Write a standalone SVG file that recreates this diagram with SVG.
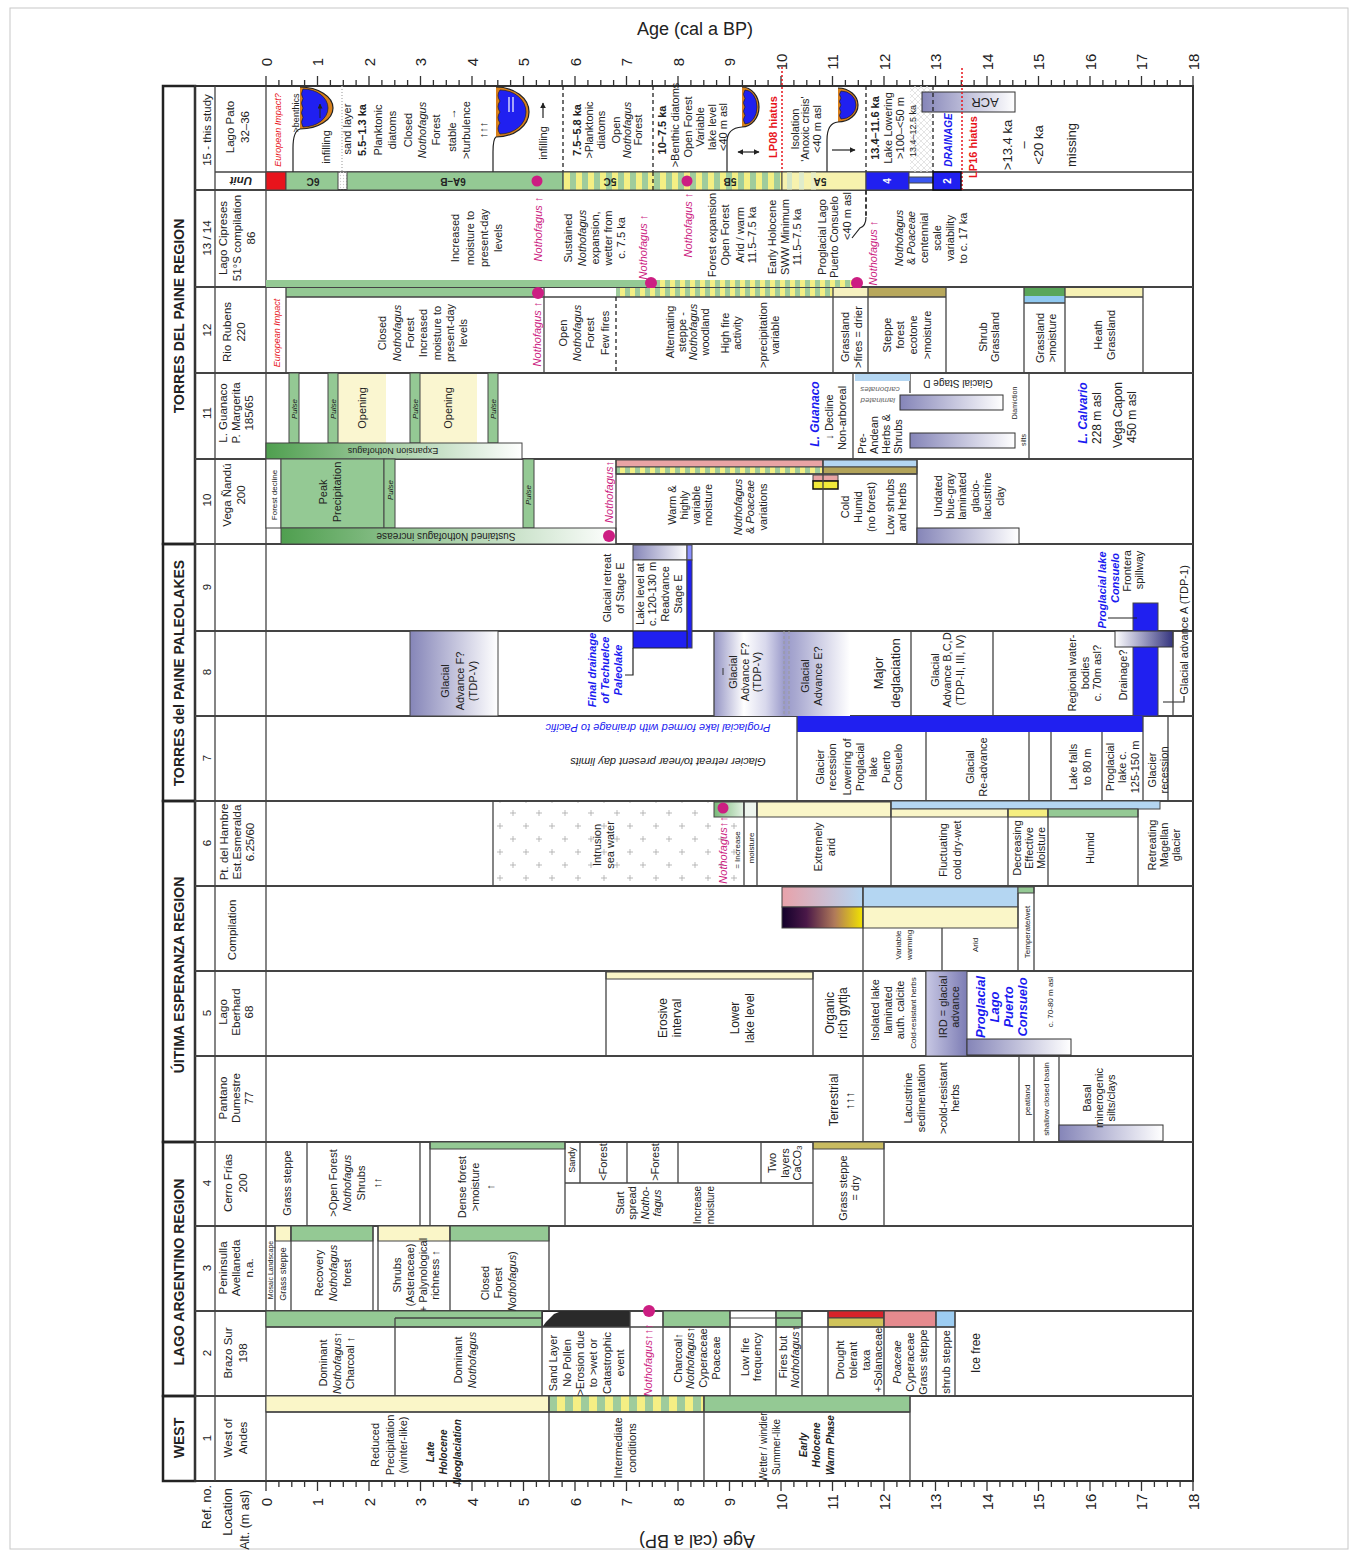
<svg xmlns="http://www.w3.org/2000/svg" width="1356" height="1556" viewBox="0 0 1356 1556">
<defs>
<style>
text{font-family:"Liberation Sans",Arial,sans-serif;font-size:11px;fill:#222;text-anchor:middle;dominant-baseline:central}
.s7{font-size:7px}.s8{font-size:8px}.s9{font-size:9px}.s10{font-size:10px}.s12{font-size:12px}.s13{font-size:13px}
.i{font-style:italic}.b{font-weight:bold}
.m{fill:#cc1e82}.r{fill:#e8141c}.bl{fill:#1a1af0}.g{fill:#666}.w{fill:#fff}
.hd{font-size:14px;font-weight:bold}
.lb,.lb text{font-size:11.5px}
.lb2 text{font-size:12.5px}
.ax text{font-size:15px}
.st{text-anchor:start}
.ln{stroke:#444;stroke-width:1.3;fill:none}
.rw{stroke:#444;stroke-width:2;fill:none}
.bx{stroke:#444;stroke-width:1}
.gr{fill:#94c994}
.py{fill:#faf6c8}
.blu{fill:#2020f0}
.lbu{fill:#b4d6f2}
.dsh{stroke:#222;stroke-width:1.3;stroke-dasharray:4 3;fill:none}
.rd{stroke:#e8141c;stroke-width:1.5;stroke-dasharray:2 2;fill:none}
.dot{fill:#cc1e82}
.arr{stroke:#222;stroke-width:1.2;fill:none}
</style>
<marker id="ah" viewBox="0 0 10 10" refX="9" refY="5" markerWidth="5" markerHeight="5" orient="auto-start-reverse"><path d="M0,0L10,5L0,10z" fill="#222"/></marker>
<pattern id="st" width="12" height="20" patternUnits="userSpaceOnUse"><rect width="6" height="20" fill="#f4ef84"/><rect x="6" width="6" height="20" fill="#9fcc9c"/></pattern>
<pattern id="st3" width="10" height="20" patternUnits="userSpaceOnUse"><rect width="5" height="20" fill="#f4ef84"/><rect x="5" width="5" height="20" fill="#9fcc9c"/></pattern>
<pattern id="st2" width="16" height="20" patternUnits="userSpaceOnUse" x="549"><rect width="8" height="20" fill="#9fcc9c"/><rect x="8" width="8" height="20" fill="#f4ef84"/></pattern>
<pattern id="plus" width="26" height="26" patternUnits="userSpaceOnUse" x="510" y="810"><path d="M0,3h6M3,0v6M13,16h6M16,13v6" stroke="#aaa" stroke-width="0.8"/></pattern>
<pattern id="hatch" width="6" height="6" patternUnits="userSpaceOnUse"><path d="M0,0L6,6M6,0L0,6" stroke="#d8d8d8" stroke-width="0.7"/></pattern>
<pattern id="dots" width="3" height="3" patternUnits="userSpaceOnUse"><circle cx="1.5" cy="1.5" r="0.7" fill="#ccc"/></pattern>
<linearGradient id="gfade"><stop offset="0" stop-color="#4f9f4f"/><stop offset="1" stop-color="#fff"/></linearGradient>
<linearGradient id="pfade"><stop offset="0" stop-color="#8585b8"/><stop offset="1" stop-color="#fff"/></linearGradient>
<linearGradient id="nav"><stop offset="0" stop-color="#fff"/><stop offset="1" stop-color="#34347f"/></linearGradient>
<linearGradient id="pb"><stop offset="0" stop-color="#e8a2aa"/><stop offset="1" stop-color="#b6d6f2"/></linearGradient>
<linearGradient id="inf"><stop offset="0" stop-color="#12002a"/><stop offset="0.3" stop-color="#4a1848"/><stop offset="0.65" stop-color="#b07a5a"/><stop offset="1" stop-color="#f2e400"/></linearGradient>
<linearGradient id="ird"><stop offset="0" stop-color="#c8c8e4"/><stop offset="1" stop-color="#7c7cb4"/></linearGradient>
<linearGradient id="r8"><stop offset="0" stop-color="#9494c4"/><stop offset="0.22" stop-color="#fff"/><stop offset="0.38" stop-color="#d8d8ec"/><stop offset="0.52" stop-color="#9a9aca"/><stop offset="0.6" stop-color="#a8a8d0"/><stop offset="1" stop-color="#fff"/></linearGradient>
<linearGradient id="g6"><stop offset="0" stop-color="#78b878"/><stop offset="1" stop-color="#e4f2e4"/></linearGradient>
<path id="tk" d="M266,0v10M317.5,0v10M369,0v10M420.5,0v10M472,0v10M523.5,0v10M575,0v10M626.5,0v10M678,0v10M729.5,0v10M781,0v10M832.5,0v10M884,0v10M935.5,0v10M987,0v10M1038.5,0v10M1090,0v10M1141.5,0v10M1193,0v10M278.9,0v6M291.8,0v6M304.6,0v6M330.4,0v6M343.3,0v6M356.1,0v6M381.9,0v6M394.8,0v6M407.6,0v6M433.4,0v6M446.3,0v6M459.1,0v6M484.9,0v6M497.8,0v6M510.6,0v6M536.4,0v6M549.3,0v6M562.1,0v6M587.9,0v6M600.8,0v6M613.6,0v6M639.4,0v6M652.3,0v6M665.1,0v6M690.9,0v6M703.8,0v6M716.6,0v6M742.4,0v6M755.3,0v6M768.1,0v6M793.9,0v6M806.8,0v6M819.6,0v6M845.4,0v6M858.3,0v6M871.1,0v6M896.9,0v6M909.8,0v6M922.6,0v6M948.4,0v6M961.3,0v6M974.1,0v6M999.9,0v6M1012.8,0v6M1025.6,0v6M1051.4,0v6M1064.3,0v6M1077.1,0v6M1102.9,0v6M1115.8,0v6M1128.6,0v6M1154.4,0v6M1167.3,0v6M1180.1,0v6" stroke="#333" stroke-width="1.3" fill="none"/>
</defs>
<rect width="1356" height="1556" fill="#fff"/>
<rect x="10" y="8" width="1338" height="1541" fill="none" stroke="#c8c8c8"/>

<g id="axes">
<use href="#tk" transform="translate(0,86) scale(1,-1)"/>
<use href="#tk" transform="translate(0,1481)"/>
<g class="ax" transform="translate(0,62) rotate(-90)">
<text y="266">0</text><text y="317.5">1</text><text y="369">2</text><text y="420.5">3</text><text y="472">4</text><text y="523.5">5</text><text y="575">6</text><text y="626.5">7</text><text y="678">8</text><text y="729.5">9</text><text y="781">10</text><text y="832.5">11</text><text y="884">12</text><text y="935.5">13</text><text y="987">14</text><text y="1038.5">15</text><text y="1090">16</text><text y="1141.5">17</text><text y="1193">18</text>
</g>
<g class="ax" transform="translate(0,1502) rotate(-90)">
<text y="266">0</text><text y="317.5">1</text><text y="369">2</text><text y="420.5">3</text><text y="472">4</text><text y="523.5">5</text><text y="575">6</text><text y="626.5">7</text><text y="678">8</text><text y="729.5">9</text><text y="781">10</text><text y="832.5">11</text><text y="884">12</text><text y="935.5">13</text><text y="987">14</text><text y="1038.5">15</text><text y="1090">16</text><text y="1141.5">17</text><text y="1193">18</text>
</g>
<text x="695" y="29" style="font-size:18px">Age (cal a BP)</text>
<text transform="translate(697,1541) rotate(180)" style="font-size:18px">Age (cal a BP)</text>
<g class="lb2" transform="translate(0,1510) rotate(-90)">
<text x="3" y="207">Ref. no.</text><text x="-2" y="228">Location</text><text x="-10" y="245">Alt. (m asl)</text>
</g>
</g>

<g id="regions">
<rect x="163" y="86" width="32" height="458" fill="none" stroke="#222" stroke-width="2.5"/>
<rect x="163" y="544" width="32" height="257" fill="none" stroke="#222" stroke-width="2.5"/>
<rect x="163" y="801" width="32" height="341" fill="none" stroke="#222" stroke-width="2.5"/>
<rect x="163" y="1142" width="32" height="254" fill="none" stroke="#222" stroke-width="2.5"/>
<rect x="163" y="1396" width="32" height="85" fill="none" stroke="#222" stroke-width="2.5"/>
<text class="hd" transform="translate(179,316) rotate(-90)">TORRES DEL PAINE REGION</text>
<text class="hd" transform="translate(179,673) rotate(-90)">TORRES del PAINE PALEOLAKES</text>
<text class="hd" transform="translate(179,975) rotate(-90)">ÚITIMA ESPERANZA REGION</text>
<text class="hd" transform="translate(179,1272) rotate(-90)">LAGO ARGENTINO REGION</text>
<text class="hd" transform="translate(179,1438) rotate(-90)">WEST</text>
</g>

<g id="grid">
<rect x="195" y="86" width="998" height="1395" fill="none" stroke="#333" stroke-width="2"/>
<path class="rw" d="M195,190H1193M195,287H1193M195,373H1193M195,459H1193M195,544H1193M195,631H1193M195,716H1193M195,801H1193M195,886H1193M195,971H1193M195,1056H1193M195,1142H1193M195,1226H1193M195,1311H1193M195,1396H1193"/>
<path class="ln" d="M215,86V1481M266,86V1481M215,172H1193"/>
</g>

<g id="labels">
<g class="lb" transform="rotate(-90)">
<text x="-130" y="207">15 - this study</text>
<text x="-127" y="230">Lago Pato</text><text x="-127" y="245">32–36</text>
<text x="-238" y="207">13 / 14</text>
<text x="-238" y="223">Lago Cipreses</text><text x="-238" y="237">51°S compilation</text><text x="-238" y="251">86</text>
<text x="-330" y="207">12</text>
<text x="-332" y="227">Rio Rubens</text><text x="-332" y="241">220</text>
<text x="-413" y="207">11</text>
<text x="-413" y="223">L. Guanaco</text><text x="-413" y="236">P. Margerita</text><text x="-413" y="249">185/65</text>
<text x="-500" y="207">10</text>
<text x="-495" y="227">Vega Ñandú</text><text x="-495" y="241">200</text>
<text x="-587" y="207">9</text>
<text x="-672" y="207">8</text>
<text x="-758" y="207">7</text>
<text x="-843" y="207">6</text>
<text x="-842" y="224">Pt. del Hambre</text><text x="-842" y="237">Est.Esmeralda</text><text x="-842" y="250">6.25/60</text>
<text x="-930" y="232">Compilation</text>
<text x="-1013" y="207">5</text>
<text x="-1012" y="223">Lago</text><text x="-1012" y="236">Eberhard</text><text x="-1012" y="249">68</text>
<text x="-1098" y="223">Pantano</text><text x="-1098" y="236">Dumestre</text><text x="-1098" y="249">77</text>
<text x="-1183" y="207">4</text>
<text x="-1183" y="228">Cerro Frías</text><text x="-1183" y="243">200</text>
<text x="-1268" y="207">3</text>
<text x="-1268" y="223">Peninsulla</text><text x="-1268" y="236">Avellaneda</text><text x="-1268" y="249">n.a.</text>
<text x="-1353" y="207">2</text>
<text x="-1353" y="228">Brazo Sur</text><text x="-1353" y="243">198</text>
<text x="-1438" y="207">1</text>
<text x="-1438" y="228">West of</text><text x="-1438" y="243">Andes</text>
</g>
<text class="lb b i" transform="translate(241,181) rotate(180)">Unit</text>
</g>

<g id="row15">
<rect x="910" y="86" width="22" height="86" fill="url(#hatch)"/>
<path d="M342,86V172" style="stroke:#bbb;stroke-width:1.5;stroke-dasharray:1 2;fill:none"/>
<path d="M300,87A33,21 0 0 1 300,129Z" fill="#d8801c"/>
<path d="M303,89A25,19 0 0 1 303,127q-3,-4.75 0,-9.5q-3,-4.75 0,-9.5q-3,-4.75 0,-9.5q-3,-4.75 0,-9.5Z" fill="#2020f0" stroke="#222" stroke-width="0.7"/>
<path class="arr" d="M293,172V148Q293,131 300,129A33,21 0 0 0 300,87"/>
<path d="M320,118V104" stroke="#222" stroke-width="1" marker-end="url(#ah)"/>
<path d="M496,87A33,25 0 0 1 496,137Z" fill="#d8801c"/>
<path d="M500,90A26,22 0 0 1 500,134q-4,-5.5 0,-11q-4,-5.5 0,-11q-4,-5.5 0,-11q-4,-5.5 0,-11Z" fill="#2020f0" stroke="#222" stroke-width="0.7"/>
<path class="arr" d="M493,172V152Q493,139 496,137A33,25 0 0 0 496,87"/>
<path d="M509,97v15M513,97v15" stroke="#fff" stroke-width="1.2"/>
<path d="M742,87A17,20 0 0 1 742,127Z" fill="#d8801c"/>
<path d="M745,90A12,17 0 0 1 745,124q-3,-4.25 0,-8.5q-3,-4.25 0,-8.5q-3,-4.25 0,-8.5q-3,-4.25 0,-8.5Z" fill="#2020f0" stroke="#222" stroke-width="0.7"/>
<path class="arr" d="M727,172V142Q727,128 742,127A17,20 0 0 0 742,87"/>
<path d="M838,88A20,17 0 0 1 838,122Z" fill="#d8801c"/>
<path d="M841,91A15,14 0 0 1 841,119q-3,-3.5 0,-7q-3,-3.5 0,-7q-3,-3.5 0,-7q-3,-3.5 0,-7Z" fill="#2020f0" stroke="#222" stroke-width="0.7"/>
<path class="arr" d="M827,172V140Q827,123 838,122A20,17 0 0 0 838,88"/>
<path class="arr" d="M543,118V103" marker-end="url(#ah)"/>
<path class="arr" d="M738,152H759" marker-start="url(#ah)" marker-end="url(#ah)"/>
<path class="arr" d="M832,150H855" marker-end="url(#ah)"/>
<rect x="922" y="92" width="93" height="20" fill="url(#pfade)" stroke="#333"/>
<text class="s13" transform="translate(985,102) rotate(180)">ACR</text>
<path class="dsh" d="M563,86V190M653,86V190M933,86V172M866,86V217"/>
<path class="rd" d="M782,67V190M962,68V190"/>
<rect x="266" y="172" width="20" height="18" fill="#e8141c" class="bx"/>
<rect x="286" y="172" width="52" height="18" class="gr bx"/>
<rect x="338" y="172" width="9" height="18" fill="url(#dots)"/>
<rect x="347" y="172" width="216" height="18" class="gr bx"/>
<rect x="563" y="172" width="219" height="18" fill="url(#st)" class="bx"/>
<rect x="782" y="172" width="84" height="18" fill="#f7f2ae" class="bx"/>
<rect x="787" y="172.5" width="5" height="17" fill="#d6e7c6"/><rect x="799" y="172.5" width="5" height="17" fill="#dfeccc"/><rect x="811" y="172.5" width="5" height="17" fill="#e8efc8"/>
<rect x="866" y="172" width="43" height="18" class="blu bx"/>
<rect x="909" y="177" width="24" height="6" fill="#3a56f0" class="bx"/>
<rect x="933" y="172" width="28" height="18" class="blu" stroke="#111" stroke-width="1.5"/>
<path class="dsh" d="M653,172V190"/>
<circle cx="537" cy="181" r="5.5" class="dot"/>
<circle cx="687" cy="181" r="5.5" class="dot"/>
<text class="b s10" transform="translate(313,181) rotate(180)">6C</text>
<text class="b s10" transform="translate(453,181) rotate(180)">6A–B</text>
<text class="b s10" transform="translate(610,181) rotate(180)">5C</text>
<text class="b s10" transform="translate(730,181) rotate(180)">5B</text>
<text class="b s10" transform="translate(820,181) rotate(180)">5A</text>
<text class="b s10 w" transform="translate(887,181) rotate(-90)">4</text>
<text class="b s10 w" transform="translate(947,181) rotate(-90)">2</text>
<g transform="translate(0,130) rotate(-90)">
<text class="s9 i r" y="278">European Impact?</text>
<text class="s9" x="17" y="296">&gt;benthics</text>
<text x="-17" y="326">infilling</text>
<text x="1" y="347">sand layer</text>
<text class="b" y="362">5.5–1.3 ka</text>
<text y="378">Planktonic</text>
<text y="392">diatoms</text>
<text y="408">Closed</text>
<text class="i" y="422">Nothofagus</text>
<text y="436">Forest</text>
<text y="452">stable →</text>
<text y="466">&gt;turbulence</text>
<text y="483">↑↑↑</text>
<text x="-13" y="543">infilling</text>
<text class="b" y="577">7.5–5.8 ka</text>
<text y="589">&gt;Planktonic</text>
<text y="601">diatoms</text>
<text y="616">Open</text>
<text class="i" y="627">Nothofagus</text>
<text y="638">Forest</text>
<text class="b" y="662">10–7.5 ka</text>
<text x="5" y="675">&gt;Benthic diatoms</text>
<text x="3" y="688">Open Forest</text>
<text x="3" y="700">Variable</text>
<text x="3" y="712">lake level</text>
<text x="3" y="723">&lt;40 m asl</text>
<text class="b r" x="3" y="773">LP08 hiatus</text>
<text x="1" y="795">Isolation</text>
<text x="1" y="805">'Anoxic crisis'</text>
<text x="1" y="817">&lt;40 m asl</text>
<text class="b" x="2" y="875">13.4–11.6 ka</text>
<text x="2" y="888">Lake Lowering</text>
<text x="2" y="900">&gt;100–&lt;50 m</text>
<text class="s9" x="-1" y="913">13.4–12.5 ka</text>
<text class="b i bl s10" x="-10" y="948">DRAINAGE</text>
<text class="b r" x="-17" y="973">LP16 hiatus</text>
<text class="s13" x="-15" y="1007">&gt;13.4 ka</text>
<text class="s13" x="-15" y="1023">–</text>
<text class="s13" x="-15" y="1038">&lt;20 ka</text>
<text class="s13" x="-15" y="1071">missing</text>
</g>
</g>

<g id="row13">
<rect x="266" y="280" width="385" height="7" class="gr"/>
<rect x="651" y="280" width="206" height="7" fill="url(#st3)"/>
<circle cx="651" cy="283" r="6" class="dot"/>
<circle cx="857" cy="283" r="6" class="dot"/>
<path class="dsh" d="M866,190V217"/>
<path class="arr" d="M866,217Q866,226 860,228L852,238"/>
<g transform="translate(0,238) rotate(-90)">
<text y="455">Increased</text><text y="470">moisture to</text><text y="484">present-day</text><text y="498">levels</text>
<text class="i m" x="9" y="538">Nothofagus ↑</text>
<text y="568">Sustained</text><text class="i" y="582">Nothofagus</text><text y="595">expansion,</text><text y="608">wetter from</text><text y="621">c. 7.5 ka</text>
<text class="i m" x="-9" y="643">Nothofagus ↑</text>
<text class="i m" x="13" y="688">Nothofagus ↑</text>
<text x="3" y="712">Forest expansion</text><text x="3" y="725">Open Forest</text><text x="3" y="740">Arid / warm</text><text x="3" y="752">11.5–7.5 ka</text>
<text x="1" y="772">Early Holocene</text><text x="1" y="785">SWW Minimum</text><text x="1" y="797">11.5–7.5 ka</text>
<text x="1" y="822">Proglacial Lago</text><text x="1" y="834">Puerto Consuelo</text><text x="22" y="847">&lt;40 m asl</text>
<text class="i m" x="-15" y="873">Nothofagus ↑</text>
<text class="i" y="899">Nothofagus</text><text y="911">&amp; <tspan class="i">Poaceae</tspan></text><text y="924">centennial</text><text y="937">scale</text><text y="950">variability</text><text y="963">to c. 17 ka</text>
</g>
</g>

<g id="row12">
<rect x="286" y="288" width="251" height="9" class="gr"/>
<rect x="616" y="288" width="217" height="9" fill="url(#st3)"/>
<rect x="833" y="288" width="35" height="9" fill="#f6f1c0"/>
<rect x="868" y="288" width="78" height="9" fill="#b8a85c"/>
<rect x="1024" y="288" width="41" height="8" fill="#5aa65a"/>
<rect x="1024" y="296" width="41" height="7" fill="#8fc8f0"/>
<rect x="1065" y="288" width="78" height="9" fill="#f6f1b4"/>
<path class="ln" d="M286,297H946M1065,297H1143M1024,303H1065M286,287V373M544,287V373M833,287V373M868,287V373M946,287V373M1024,287V373M1065,287V373M1143,287V373"/>
<path class="dsh" d="M616,297V373"/>
<circle cx="538" cy="293" r="6" class="dot"/>
<g transform="translate(0,333) rotate(-90)">
<text class="s9 i r" y="277">European Impact</text>
<text y="382">Closed</text><text class="i" y="397">Nothofagus</text><text y="410">Forest</text><text y="423">Increased</text><text y="437">moisture to</text><text y="450">present-day</text><text y="463">levels</text>
<text class="i m" x="-1" y="537">Nothofagus ↑</text>
<text y="563">Open</text><text class="i" y="577">Nothofagus</text><text y="590">Forest</text><text y="605">Few fires</text>
<text x="1" y="670">Alternating</text><text x="1" y="682">steppe -</text><text class="i" x="1" y="693">Nothofagus</text><text x="1" y="705">woodland</text>
<text y="725">High fire</text><text y="737">activity</text>
<text x="-2" y="763">&gt;precipitation</text><text x="-2" y="775">variable</text>
<text x="-4" y="845">Grassland</text><text x="-4" y="858">&gt;fires = drier</text>
<text x="-2" y="887">Steppe</text><text x="-2" y="900">forest</text><text x="-2" y="913">ecotone</text><text x="-2" y="927">&gt;moisture</text>
<text x="-4" y="983">Shrub</text><text x="-4" y="995">Grassland</text>
<text x="-5" y="1040">Grassland</text><text x="-5" y="1052">&gt;moisture</text>
<text x="-2" y="1098">Heath</text><text x="-2" y="1111">Grassland</text>
</g>
</g>

<g id="row11">
<rect x="338" y="374" width="48" height="69" fill="#faf6d0"/>
<rect x="420" y="374" width="57" height="69" fill="#faf6d0"/>
<rect x="289" y="373" width="10" height="70" class="gr bx"/>
<rect x="328" y="373" width="10" height="70" class="gr bx"/>
<rect x="410" y="373" width="10" height="70" class="gr bx"/>
<rect x="488" y="373" width="10" height="70" class="gr bx"/>
<rect x="266" y="443" width="256" height="16" fill="url(#gfade)" class="bx"/>
<text class="s9" transform="translate(393,451) rotate(180)">Expansion Nothofagus</text>
<path class="ln" d="M853,373V459M910,373V393M1029,373V459"/>
<rect x="855" y="374" width="55" height="7" class="lbu"/>
<text class="s8 i g" transform="translate(880,389) rotate(180)">carbonates</text>
<text class="s8 i g" transform="translate(878,400) rotate(180)">laminated</text>
<text class="s10" transform="translate(958,383) rotate(180)">Glacial Stage D</text>
<rect x="900" y="395" width="103" height="15" fill="url(#pfade)" stroke="#333"/>
<rect x="910" y="433" width="105" height="15" fill="url(#pfade)" stroke="#333"/>
<g transform="translate(0,410) rotate(-90)">
<text class="s8 i" x="1" y="294">Pulse</text><text class="s8 i" x="1" y="333">Pulse</text><text class="s8 i" x="1" y="415">Pulse</text><text class="s8 i" x="1" y="493">Pulse</text>
<text x="2" y="362">Opening</text><text x="2" y="448">Opening</text>
<text class="b i bl s12" x="-4" y="815">L. Guanaco</text>
<text x="-7" y="829">↓ Decline</text>
<text x="-8" y="842">Non-arboreal</text>
<text class="st" x="-44" y="862">Pre-</text><text class="st" x="-44" y="874">Andean</text><text class="st" x="-44" y="886">Herbs &amp;</text><text class="st" x="-44" y="898">Shrubs</text>
<text class="s7" x="7" y="1014">Diamiction</text>
<text class="s7" x="-30" y="1023">silts</text>
<text class="b i bl s12" x="-3" y="1083">L. Calvario</text>
<text class="s12" x="-8" y="1097">228 m asl</text>
<text class="s12" x="-5" y="1118">Vega Capon</text>
<text class="s12" x="-7" y="1132">450 m asl</text>
</g>
</g>

<g id="row10">
<rect x="266" y="459" width="15" height="69" fill="#fff" class="bx"/>
<rect x="281" y="459" width="103" height="69" class="gr bx"/>
<rect x="384" y="459" width="11" height="69" class="gr bx"/>
<rect x="523" y="459" width="11" height="69" class="gr bx"/>
<rect x="281" y="528" width="335" height="16" fill="url(#gfade)" class="bx"/>
<text class="s10" transform="translate(446,536) rotate(180)">Sustained Nothofagus increase</text>
<circle cx="609" cy="536" r="6" class="dot"/>
<rect x="616" y="460" width="207" height="7" fill="#e8a4a4" class="bx"/>
<rect x="616" y="467" width="207" height="7" fill="url(#st3)" class="bx"/>
<rect x="823" y="460" width="94" height="7" class="lbu bx"/>
<rect x="823" y="467" width="94" height="7" fill="#b2a35a" class="bx"/>
<rect x="813" y="475" width="25" height="6" fill="#e8a4a4" class="bx"/>
<rect x="813" y="481" width="25" height="8" fill="#f2ea3a" stroke="#111" stroke-width="1.5"/>
<path class="ln" d="M616,459V544M823,459V544M917,459V544M616,474H917"/>
<rect x="917" y="528" width="102" height="16" fill="url(#pfade)" stroke="#333"/>
<g transform="translate(0,495) rotate(-90)">
<text class="s8" y="274">Forest decline</text>
<text x="3" y="323">Peak</text><text x="3" y="337">Precipitation</text>
<text class="s8 i" x="5" y="390">Pulse</text><text class="s8 i" y="528">Pulse</text>
<text class="i m" x="3" y="609">Nothofagus↑</text>
<text x="-10" y="672">Warm &amp;</text><text x="-10" y="684">highly</text><text x="-10" y="696">variable</text><text x="-10" y="708">moisture</text>
<text class="i" x="-12" y="738">Nothofagus</text><text x="-12" y="750">&amp; <tspan class="i">Poaceae</tspan></text><text x="-12" y="763">variations</text>
<text x="-12" y="845">Cold</text><text x="-12" y="858">Humid</text><text x="-12" y="871">(no forest)</text><text x="-12" y="890">Low shrubs</text><text x="-12" y="902">and herbs</text>
<text x="-1" y="938">Undated</text><text x="-1" y="950">blue-gray</text><text x="-1" y="962">laminated</text><text x="-1" y="975">glacio-</text><text x="-1" y="987">lacustrine</text><text x="-1" y="1000">clay</text>
</g>
</g>

<g id="row9">
<rect x="633" y="545" width="54" height="15" fill="url(#pfade)" class="bx"/>
<rect x="633" y="560" width="54" height="71" fill="#fff" class="bx"/>
<rect x="687" y="545" width="5" height="15" fill="#8a90ff" class="bx"/>
<rect x="687" y="560" width="5" height="88" class="blu bx"/>
<rect x="633" y="631" width="54" height="17" class="blu" stroke="#222"/>
<path class="arr" d="M633,648V675H625"/>
<rect x="1133" y="603" width="25" height="113" class="blu bx"/>
<rect x="1115" y="631" width="58" height="16" fill="url(#nav)" stroke="#333"/>
<path class="arr" d="M1108,618H1137M1163,702H1184V696"/>
<path class="ln" d="M1173,631V716"/>
<g transform="translate(0,587) rotate(-90)">
<text x="-1" y="607">Glacial retreat</text><text x="-1" y="620">of Stage E</text>
<text x="-7" y="640">Lake level at</text><text x="-7" y="652">c. 120-130 m</text><text x="-7" y="665">Readvance</text><text x="-7" y="678">Stage E</text>
<text class="b i bl" x="-83" y="592">Final drainage</text><text class="b i bl" x="-83" y="605">of Techuelce</text><text class="b i bl" x="-83" y="618">Paleolake</text>
<text class="b i bl" x="-3" y="1102">Proglacial lake</text><text class="b i bl" x="9" y="1115">Consuelo</text>
<text x="16" y="1127">Frontera</text><text x="17" y="1139">spillway</text>
<text x="-43" y="1184">Glacial advance A (TDP-1)</text>
</g>
</g>

<g id="row8">
<rect x="410" y="631" width="88" height="85" fill="url(#pfade)" class="bx"/>
<rect x="714" y="632" width="136" height="84" fill="url(#r8)"/>
<path d="M784,631V716M789,631V716" stroke="#999" stroke-width="1" stroke-dasharray="3 2"/>
<path class="ln" d="M714,631V716M911,631V716M993,631V716"/>
<path d="M723,668V675" stroke="#333" stroke-width="1"/>
<g transform="translate(0,673) rotate(-90)">
<text x="-8" y="445">Glacial</text><text x="-8" y="460">Advance F?</text><text x="-8" y="473">(TDP-V)</text>
<text x="1" y="733">Glacial</text><text x="1" y="745">Advance F?</text><text x="1" y="757">(TDP-V)</text>
<text x="-3" y="805">Glacial</text><text x="-3" y="818">Advance E?</text>
<text class="s13" y="878">Major</text><text class="s13" y="895">deglaciation</text>
<text x="3" y="935">Glacial</text><text x="3" y="947">Advance B,C,D</text><text x="3" y="960">(TDP-II, III, IV)</text>
<text y="1072">Regional water-</text><text y="1085">bodies</text><text y="1097">c. 70m asl?</text>
<text x="-2" y="1123">Drainage?</text>
</g>
</g>

<g id="row7">
<rect x="797" y="716" width="346" height="16" class="blu"/>
<path class="ln" d="M797,716V801M926,732V801M1029,732V801M1051,732V801M1102,732V801M1143,716V801M1168,716V801"/>
<text class="i bl" transform="translate(658,728) rotate(180)">Proglacial lake formed with drainage to Pacific</text>
<text class="i" transform="translate(668,762) rotate(180)">Glacier retreat to/near present day limits</text>
<g transform="translate(0,767) rotate(-90)">
<text y="820">Glacier</text><text y="832">recession</text><text y="847">Lowering of</text><text y="860">Proglacial</text><text y="873">lake</text><text y="886">Puerto</text><text y="898">Consuelo</text>
<text y="970">Glacial</text><text y="983">Re-advance</text>
<text y="1073">Lake falls</text><text y="1087">to 80 m</text>
<text y="1110">Proglacial</text><text y="1122">lake c.</text><text y="1135">125-150 m</text>
<text x="-3" y="1152">Glacier</text><text x="-3" y="1164">recession</text>
</g>
</g>

<g id="row6">
<rect x="494" y="802" width="250" height="84" fill="url(#plus)"/>
<rect x="714" y="802" width="30" height="15" fill="url(#g6)" class="bx"/>
<rect x="744" y="802" width="13" height="15" fill="#eef6ee" class="bx"/>
<circle cx="723" cy="808" r="5.5" class="dot"/>
<rect x="757" y="802" width="134" height="15" class="py bx"/>
<rect x="891" y="801" width="269" height="8" class="lbu bx"/>
<rect x="891" y="809" width="117" height="8" class="py bx"/>
<rect x="1008" y="809" width="40" height="8" fill="#f5ee80" class="bx"/>
<rect x="1048" y="809" width="90" height="8" class="gr bx"/>
<path class="ln" d="M493,801V886M744,801V886M757,801V886M891,801V886M1008,809V886M1048,809V886M1138,809V886"/>
<g transform="translate(0,845) rotate(-90)">
<text y="597">Intrusion</text><text y="610">sea water</text>
<text class="i m" x="-5" y="723">Nothofagus↑↑</text>
<text class="s8" x="-5" y="737">= Increase</text>
<text class="s8" x="-3" y="751">moisture</text>
<text x="-2" y="818">Extremely</text><text x="-2" y="831">arid</text>
<text x="-5" y="943">Fluctuating</text><text x="-5" y="957">cold dry-wet</text>
<text x="-3" y="1017">Decreasing</text><text x="-3" y="1029">Effective</text><text x="-3" y="1041">Moisture</text>
<text x="-3" y="1090">Humid</text>
<text y="1152">Retreating</text><text y="1164">Magellan</text><text y="1176">glacier</text>
</g>
</g>

<g id="rowC">
<rect x="782" y="887" width="81" height="20" fill="url(#pb)" class="bx"/>
<rect x="782" y="907" width="81" height="21" fill="url(#inf)" class="bx"/>
<rect x="863" y="887" width="155" height="20" class="lbu bx"/>
<rect x="863" y="907" width="155" height="21" class="py bx"/>
<rect x="1018" y="887" width="16" height="6" class="gr bx"/>
<path class="ln" d="M863,886V971M942,928V971M1018,893V971M1034,886V971"/>
<g transform="translate(0,945) rotate(-90)">
<text class="s8" y="898">Variable</text><text class="s8" y="909">warming</text>
<text class="s8" y="975">Arid</text>
<text class="s8" x="13" y="1027">Temperate/wet</text>
</g>
</g>

<g id="row5">
<rect x="606" y="972" width="207" height="7" class="py bx"/>
<path class="ln" d="M606,971V1056M813,971V1056M863,971V1056M926,971V1056"/>
<rect x="926" y="971" width="41" height="85" fill="url(#ird)" class="bx"/>
<rect x="967" y="1039" width="104" height="16" fill="url(#pfade)" stroke="#333"/>
<g transform="translate(0,1013) rotate(-90)">
<text class="s12" x="-5" y="663">Erosive</text><text class="s12" x="-5" y="677">interval</text>
<text class="s12" x="-5" y="735">Lower</text><text class="s12" x="-5" y="750">lake level</text>
<text class="s12" y="830">Organic</text><text class="s12" y="843">rich gyttja</text>
<text x="3" y="875">Isolated lake</text><text x="3" y="888">laminated</text><text x="3" y="900">auth. calcite</text>
<text class="s8" y="913">Cold-resistant herbs</text>
<text x="6" y="943">IRD = glacial</text><text x="6" y="955">advance</text>
<text class="b i bl s13" x="6" y="980">Proglacial</text><text class="b i bl s13" x="6" y="994">Lago</text><text class="b i bl s13" x="6" y="1008">Puerto</text><text class="b i bl s13" x="6" y="1022">Consuelo</text>
<text class="s8" x="11" y="1050">c. 70-80 m asl</text>
</g>
</g>

<g id="rowP">
<path class="ln" d="M863,1056V1142M1019,1056V1142M1034,1056V1142M1059,1056V1142"/>
<rect x="1059" y="1125" width="104" height="16" fill="url(#pfade)" stroke="#333"/>
<g transform="translate(0,1098) rotate(-90)">
<text class="s12" x="-2" y="834">Terrestrial</text><text class="s12" x="-3" y="850">↑↑↑</text>
<text y="908">Lacustrine</text><text y="921">sedimentation</text><text y="943">&gt;cold-resistant</text><text y="955">herbs</text>
<text class="s8" x="-2" y="1027">peatland</text>
<text class="s8" x="-1" y="1046">shallow closed basin</text>
<text y="1087">Basal</text><text y="1099">minerogenic</text><text y="1111">silts/clays</text>
</g>
</g>

<g id="row4">
<rect x="430" y="1142" width="135" height="7" class="gr bx"/>
<rect x="813" y="1142" width="71" height="7" fill="#c8bb60" class="bx"/>
<path class="ln" d="M307,1142V1226M420,1142V1226M430,1142V1226M565,1142V1226M813,1142V1226M884,1142V1226M580,1142V1183M627,1142V1183M678,1142V1183M761,1142V1183M565,1183H813"/>
<g transform="translate(0,1183) rotate(-90)">
<text y="287">Grass steppe</text>
<text y="333">&gt;Open Forest</text><text class="i" y="347">Nothofagus</text><text y="361">Shrubs</text><text y="377">↑↑</text>
<text x="-4" y="462">Dense forest</text><text x="-4" y="475">&gt;moisture</text><text x="-4" y="490">↑</text>
<text class="s9" x="23" y="572">Sandy</text>
<text x="21" y="603">&lt;Forest</text><text x="21" y="655">&gt;Forest</text>
<text x="20" y="772">Two</text><text x="20" y="785">layers</text><text x="20" y="797">CaCO<tspan class="s8" dy="2">3</tspan></text>
<text x="-20" y="620">Start</text><text x="-20" y="632">spread</text><text class="i" x="-20" y="645">Notho-</text><text class="i" x="-20" y="657">fagus</text>
<text class="s10" x="-22" y="697">Increase</text><text class="s10" x="-22" y="710">moisture</text>
<text x="-5" y="843">Grass steppe</text><text x="-5" y="855">= dry</text>
</g>
</g>

<g id="row3">
<rect x="275" y="1226" width="16" height="15" class="py bx"/>
<rect x="291" y="1226" width="82" height="15" class="gr bx"/>
<rect x="378" y="1226" width="72" height="15" class="py bx"/>
<rect x="450" y="1226" width="99" height="15" class="gr bx"/>
<path class="ln" d="M275,1226V1311M291,1226V1311M373,1226V1311M378,1226V1311M450,1226V1311M549,1226V1311"/>
<g transform="translate(0,1268) rotate(-90)">
<text class="s7" x="-2" y="270">Mosaic Landscape</text>
<text class="s9" x="-6" y="283">Grass steppe</text>
<text x="-5" y="319">Recovery</text><text class="i" x="-5" y="333">Nothofagus</text><text x="-5" y="347">forest</text>
<text x="-7" y="397">Shrubs</text><text x="-7" y="410">(Asteraceae)</text><text x="-7" y="423">+ Palynological</text><text x="-7" y="435">richness ↑</text>
<text x="-15" y="485">Closed</text><text x="-15" y="498">Forest</text><text x="-15" y="512">(<tspan class="i">Nothofagus</tspan>)</text>
</g>
</g>

<g id="row2">
<rect x="266" y="1311" width="276" height="16" class="gr bx"/>
<rect x="542" y="1311" width="88" height="16" fill="#2a2a2a"/>
<path d="M543,1326V1312H559L554,1314L550,1318L546,1322Z" fill="#fff"/>
<rect x="663" y="1311" width="67" height="16" class="gr bx"/>
<rect x="730" y="1311" width="46" height="7" fill="#fff" class="bx"/>
<rect x="776" y="1311" width="26" height="16" class="gr bx"/>
<rect x="828" y="1311" width="56" height="7" fill="#d8222a" class="bx"/>
<rect x="828" y="1318" width="56" height="9" fill="#cfc35a" class="bx"/>
<rect x="884" y="1311" width="52" height="16" fill="#e58a8e" class="bx"/>
<rect x="936" y="1311" width="19" height="16" fill="#9dcdf2" class="bx"/>
<path class="ln" d="M395,1318H542M776,1318H802M266,1327H955M395,1318V1396M542,1311V1396M630,1311V1396M663,1311V1396M730,1311V1396M776,1311V1396M802,1311V1396M828,1311V1396M884,1311V1396M936,1311V1396M955,1311V1396"/>
<circle cx="649" cy="1311" r="6" class="dot"/>
<g transform="translate(0,1360) rotate(-90)">
<text x="-3" y="323">Dominant</text><text class="i" x="-3" y="337">Nothofagus↑</text><text x="-3" y="350">Charcoal ↑</text>
<text y="458">Dominant</text><text class="i" y="472">Nothofagus</text>
<text x="-3" y="553">Sand Layer</text><text x="-3" y="567">No Pollen</text><text x="-3" y="580">&gt;Erosion due</text><text x="-3" y="593">to &gt;wet or</text><text x="-3" y="607">Catastrophic</text><text x="-3" y="620">event</text>
<text class="i m" y="648">Nothofagus↑↑↑</text>
<text x="2" y="678">Charcoal↑</text><text class="i" x="2" y="690">Nothofagus↑</text><text x="2" y="703">Cyperaceae</text><text x="2" y="716">Poaceae</text>
<text x="3" y="745">Low fire</text><text x="3" y="757">frequency</text>
<text x="3" y="783">Fires but</text><text class="i" x="3" y="795">Nothofagus↑</text>
<text y="840">Drought</text><text y="853">tolerant</text><text y="866">taxa</text><text y="878">+Solanaceae</text>
<text class="i" x="-2" y="897">Poaceae</text><text x="-2" y="910">Cyperaceae</text><text x="-2" y="923">Grass steppe</text>
<text x="-2" y="946">shrub steppe</text>
<text class="s12" x="7" y="976">Ice free</text>
</g>
</g>

<g id="row1">
<rect x="266" y="1396" width="283" height="16" class="py bx"/>
<rect x="549" y="1396" width="155" height="16" fill="url(#st2)" class="bx"/>
<rect x="704" y="1396" width="206" height="16" class="gr bx"/>
<path class="ln" d="M266,1412H910M549,1396V1481M704,1396V1481M910,1396V1481"/>
<g transform="translate(0,1445) rotate(-90)">
<text y="375">Reduced</text><text y="390">Precipitation</text><text y="403">(winter-like)</text>
<text class="b i s10" x="-7" y="430">Late</text><text class="b i s10" x="-7" y="443">Holocene</text><text class="b i s10" x="-7" y="457">Neoglaciation</text>
<text x="-3" y="618">Intermediate</text><text x="-3" y="632">conditions</text>
<text class="s10" x="-2" y="763">Wetter / windier</text><text class="s10" x="-2" y="776">Summer-like</text>
<text class="b i s10" y="803">Early</text><text class="b i s10" y="816">Holocene</text><text class="b i s10" y="830">Warm Phase</text>
</g>
</g>
</svg>
